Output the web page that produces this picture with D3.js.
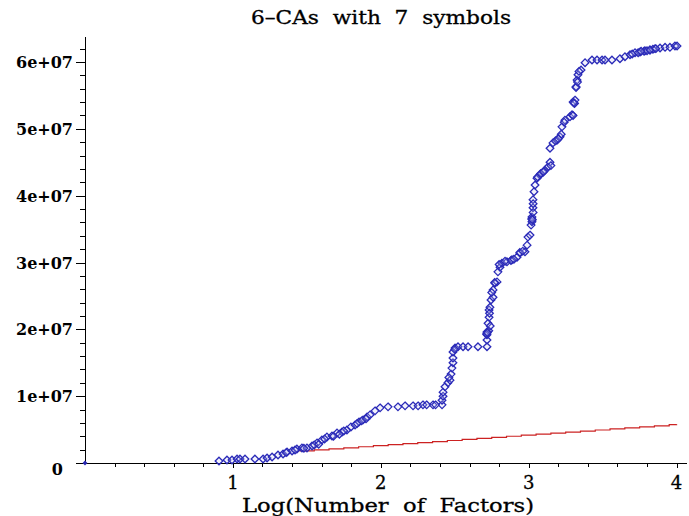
<!DOCTYPE html>
<html>
<head>
<meta charset="utf-8">
<script src="https://cdn.jsdelivr.net/npm/d3@7"></script>
<style>
  html, body { margin: 0; padding: 0; background: #fff; }
  svg { display: block; }
</style>
</head>
<body>
<svg id="chart" width="689" height="516"></svg>
<script>
// ---- Data ----
const titleText = "6\u2013CAs  with  7  symbols";
const xTitle = "Log(Number  of  Factors)";

// Blue diamonds: log(number of factors) and size
const blueX = [0, 0.906, 0.960, 0.994, 1.028, 1.048, 1.082, 1.149, 1.204, 1.231, 1.265, 1.305, 1.339, 1.366,
  1.400, 1.433, 1.467, 1.501, 1.535, 1.569, 1.602, 1.636, 1.670, 1.704, 1.738, 1.771, 1.798, 1.826, 1.853,
  1.880, 1.907, 1.927, 1.961, 1.995, 2.049, 2.116, 2.164, 2.218, 2.252, 2.285, 2.353, 2.414, 2.414, 2.421,
  2.421, 2.434, 2.454, 2.468, 2.475, 2.481, 2.488, 2.488, 2.488, 2.502, 2.522, 2.556, 2.590, 2.657, 2.718,
  2.718, 2.718, 2.718, 2.725, 2.732, 2.732, 2.738, 2.745, 2.759, 2.759, 2.772, 2.786, 2.792, 2.806, 2.819,
  2.853, 2.887, 2.921, 2.941, 2.975, 2.989, 2.995, 3.009, 3.016, 3.022, 3.022, 3.029, 3.029, 3.036, 3.043,
  3.056, 3.076, 3.097, 3.130, 3.144, 3.144, 3.164, 3.191, 3.212, 3.225, 3.245, 3.279, 3.293, 3.300, 3.313,
  3.320, 3.327, 3.333, 3.354, 3.381, 3.428, 3.462, 3.496, 3.516, 3.563, 3.617, 3.651, 3.685, 3.719, 3.753,
  3.786, 3.820, 3.854, 3.888, 3.922, 3.955, 3.989, 4.003,
  1.55, 1.62, 1.75, 1.84, 1.90, 2.73, 2.74, 2.88, 2.90, 3.02, 3.03, 3.11, 3.18, 3.22, 3.30, 3.31, 3.34, 3.78, 3.80, 3.84,
  1.36, 1.42, 1.48, 1.58, 1.68, 1.72, 1.87, 2.31, 2.37, 2.46, 2.50, 2.715, 2.72, 2.735, 2.75, 2.77, 2.80,
  2.84, 2.94, 2.96, 3.025, 3.03, 3.06, 3.08, 3.10, 3.15, 3.20, 3.24, 3.305, 3.32, 3.33, 3.70, 3.74, 3.76, 3.82, 3.86];
const blueY = [0, 3.0e5, 4.5e5, 4.5e5, 6.0e5, 6.0e5, 6.0e5, 6.0e5, 6.0e5, 7.5e5, 9.0e5, 1.20e6, 1.35e6, 1.65e6,
  1.80e6, 2.10e6, 2.25e6, 2.25e6, 2.55e6, 3.00e6, 3.45e6, 3.90e6, 4.05e6, 4.50e6, 4.65e6, 4.95e6, 5.40e6, 5.70e6, 6.15e6,
  6.45e6, 6.90e6, 7.20e6, 7.80e6, 8.25e6, 8.40e6, 8.40e6, 8.55e6, 8.55e6, 8.55e6, 8.70e6, 8.70e6, 8.70e6, 9.40e6, 1.00e7,
  1.06e7, 1.14e7, 1.20e7, 1.24e7, 1.33e7, 1.42e7, 1.50e7, 1.57e7, 1.66e7, 1.72e7, 1.74e7, 1.74e7, 1.74e7, 1.74e7, 1.74e7,
  1.84e7, 1.92e7, 1.96e7, 2.09e7, 2.18e7, 2.29e7, 2.33e7, 2.44e7, 2.48e7, 2.59e7, 2.69e7, 2.71e7, 2.86e7, 2.93e7, 2.99e7,
  3.01e7, 3.04e7, 3.08e7, 3.14e7, 3.16e7, 3.26e7, 3.38e7, 3.41e7, 3.56e7, 3.61e7, 3.68e7, 3.82e7, 3.94e7, 4.06e7, 4.16e7,
  4.26e7, 4.31e7, 4.35e7, 4.43e7, 4.50e7, 4.71e7, 4.79e7, 4.83e7, 4.88e7, 5.03e7, 5.13e7, 5.18e7, 5.21e7, 5.40e7, 5.43e7,
  5.63e7, 5.73e7, 5.81e7, 5.88e7, 5.99e7, 6.03e7, 6.03e7, 6.03e7, 6.03e7, 6.03e7, 6.05e7, 6.08e7, 6.11e7, 6.14e7, 6.15e7,
  6.17e7, 6.18e7, 6.20e7, 6.21e7, 6.22e7, 6.22e7, 6.24e7, 6.24e7,
  2.70e6, 3.60e6, 4.80e6, 5.90e6, 6.60e6, 1.98e7, 2.05e7, 3.03e7, 3.05e7, 3.65e7, 3.88e7, 4.38e7, 4.82e7, 4.92e7, 5.20e7, 5.38e7, 5.86e7, 6.16e7, 6.17e7, 6.19e7,
  1.55e6, 1.95e6, 2.20e6, 2.80e6, 4.00e6, 4.30e6, 6.30e6, 8.70e6, 8.70e6, 1.28e7, 1.70e7, 1.93e7, 1.95e7, 2.24e7, 2.55e7, 2.70e7, 2.97e7,
  3.02e7, 3.15e7, 3.17e7, 3.64e7, 3.75e7, 4.28e7, 4.33e7, 4.36e7, 4.45e7, 4.85e7, 5.10e7, 5.39e7, 5.62e7, 5.70e7, 6.12e7, 6.14e7, 6.16e7, 6.18e7, 6.20e7];

// Red stepped line
const redX = [1.45, 1.55, 1.65, 1.75, 1.85, 1.95, 2.05, 2.15, 2.25, 2.35, 2.45, 2.55, 2.65, 2.75, 2.85,
  2.95, 3.05, 3.15, 3.25, 3.35, 3.45, 3.55, 3.65, 3.75, 3.85, 3.95, 4.0];
const redY = [1.80e6, 1.96e6, 2.11e6, 2.27e6, 2.43e6, 2.59e6, 2.74e6, 2.90e6, 3.06e6, 3.21e6, 3.37e6, 3.53e6,
  3.68e6, 3.84e6, 4.00e6, 4.16e6, 4.31e6, 4.47e6, 4.63e6, 4.78e6, 4.94e6, 5.10e6, 5.25e6, 5.41e6, 5.57e6,
  5.73e6, 5.80e6];

const xMajor = [1, 2, 3, 4];
const xMinor = [0.2, 0.4, 0.6, 0.8, 1.2, 1.4, 1.6, 1.8, 2.2, 2.4, 2.6, 2.8, 3.2, 3.4, 3.6, 3.8];
const yMajor = [1e7, 2e7, 3e7, 4e7, 5e7, 6e7];
const yMajorLabels = ["1e+07", "2e+07", "3e+07", "4e+07", "5e+07", "6e+07"];
const yMinor = [2e6, 4e6, 6e6, 8e6, 1.2e7, 1.4e7, 1.6e7, 1.8e7, 2.2e7, 2.4e7, 2.6e7, 2.8e7, 3.2e7, 3.4e7, 3.6e7,
  3.8e7, 4.2e7, 4.4e7, 4.6e7, 4.8e7, 5.2e7, 5.4e7, 5.6e7, 5.8e7, 6.2e7];

// ---- Layout ----
const svg = d3.select("#chart");
const X0 = 85, X1 = 687, Y0 = 463, Y1 = 37;
const x = d3.scaleLinear().domain([0, (X1 - X0) / 147.9]).range([X0, X1]);
const y = d3.scaleLinear().domain([0, (Y0 - Y1) / 66.83 * 1e7]).range([Y0, Y1]);

const serif = "'DejaVu Serif', 'Liberation Serif', serif";

// Title
svg.append("text")
  .attr("x", 381).attr("y", 24)
  .attr("text-anchor", "middle")
  .attr("font-family", serif).attr("font-size", 18)
  .attr("textLength", 260).attr("lengthAdjust", "spacingAndGlyphs")
  .attr("xml:space", "preserve")
  .attr("stroke", "#000").attr("stroke-width", 0.3)
  .text(titleText);

// Axes lines
const axes = svg.append("g").attr("stroke", "#000").attr("stroke-width", 1).attr("shape-rendering", "crispEdges");
axes.append("line").attr("x1", X0).attr("x2", X1).attr("y1", Y0).attr("y2", Y0);
axes.append("line").attr("x1", X0).attr("x2", X0).attr("y1", Y0).attr("y2", Y1);

// X ticks (downward)
axes.selectAll(".xmaj").data(xMajor).join("line")
  .attr("x1", d => Math.round(x(d))).attr("x2", d => Math.round(x(d)))
  .attr("y1", Y0).attr("y2", Y0 + 5);
axes.selectAll(".xmin").data(xMinor).join("line")
  .attr("x1", d => Math.round(x(d))).attr("x2", d => Math.round(x(d)))
  .attr("y1", Y0).attr("y2", Y0 + 4);

// Y ticks (leftward)
axes.selectAll(".ymaj").data([0].concat(yMajor)).join("line")
  .attr("x1", X0 - 9).attr("x2", X0)
  .attr("y1", d => Math.round(y(d))).attr("y2", d => Math.round(y(d)));
axes.selectAll(".ymin").data(yMinor).join("line")
  .attr("x1", X0 - 5).attr("x2", X0)
  .attr("y1", d => Math.round(y(d))).attr("y2", d => Math.round(y(d)));

// X tick labels
svg.append("g").selectAll("text").data(xMajor).join("text")
  .attr("x", d => x(d)).attr("y", 489)
  .attr("text-anchor", "middle")
  .attr("font-family", serif).attr("font-size", 18)
  .attr("stroke", "#000").attr("stroke-width", 0.3)
  .text(d => String(d));

// Y tick labels
const yl = svg.append("g").attr("font-family", serif).attr("font-size", 16).attr("font-weight", "bold")
  .attr("text-anchor", "end");
yl.selectAll("text").data(yMajor).join("text")
  .attr("x", 73).attr("y", d => y(d) + 6)
  .text((d, i) => yMajorLabels[i]);
yl.append("text").attr("x", 63).attr("y", y(0) + 12).text("0");

// X axis title
svg.append("text")
  .attr("x", 388).attr("y", 512)
  .attr("text-anchor", "middle")
  .attr("font-family", serif).attr("font-size", 19)
  .attr("textLength", 292).attr("lengthAdjust", "spacingAndGlyphs")
  .attr("xml:space", "preserve")
  .attr("stroke", "#000").attr("stroke-width", 0.3)
  .text(xTitle);

// Red stepped line
const redData = redX.map((d, i) => [d, redY[i]]);
svg.append("path")
  .datum(redData)
  .attr("fill", "none")
  .attr("stroke", "#cc2222")
  .attr("stroke-width", 1.2)
  .attr("d", d3.line().x(d => x(d[0])).y(d => y(d[1])).curve(d3.curveStepAfter));

// Blue diamonds
const blueData = blueX.map((d, i) => [d, blueY[i]]);
svg.append("g").selectAll("path").data(blueData).join("path")
  .attr("transform", d => `translate(${x(d[0])},${y(d[1])})`)
  .attr("d", (d, i) => i === 0 ? "M0,-1.5L1.5,0L0,1.5L-1.5,0Z" : "M0,-3.8L3.8,0L0,3.8L-3.8,0Z")
  .attr("fill", (d, i) => i === 0 ? "#1a1a8c" : "rgba(200,200,240,0.25)")
  .attr("stroke", "#2a2ab8")
  .attr("stroke-width", 1.3);
</script>
</body>
</html>
